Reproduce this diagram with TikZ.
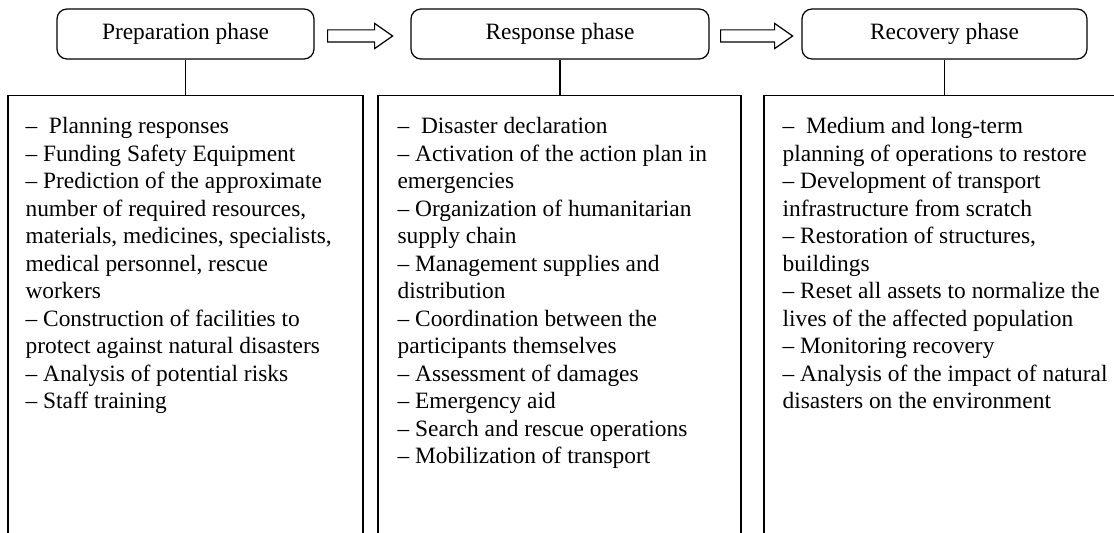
\documentclass[tikz,border=0pt]{standalone}
\usepackage{fontspec}
\setmainfont{Liberation Serif}
\usetikzlibrary{shapes.arrows}

\begin{document}
\begin{tikzpicture}[x=0.5pt, y=-0.5pt, line width=0.6pt, font=\fontsize{11.7pt}{13.75pt}\selectfont]
		\tikzstyle{phasebox}=[draw, rounded corners=5pt, minimum height=25pt, inner sep=0pt]
		\tikzstyle{listbox}=[draw, minimum height=240pt, anchor=north, inner sep=0pt]
		\tikzstyle{listtext}=[align=left, anchor=north west, inner sep=0pt]
		\tikzstyle{blockarrow}=[draw, single arrow, single arrow tip angle=70, single arrow head extend=3.25pt, inner xsep=0pt, inner ysep=2.75pt, anchor=west]
			\useasboundingbox (0,0) rectangle (1114,533);
			\clip (0,0) rectangle (1114,533);

			% phases
			\node[phasebox, minimum width=128.5pt] (prep) at (185.5, 34) {Preparation phase};
			\node[phasebox, minimum width=149pt] (resp) at (560, 34) {Response phase};
			\node[phasebox, minimum width=142.5pt] (rec) at (944.5, 34) {Recovery phase};

			\node[blockarrow, minimum height=32.5pt] (preptoresp) at (327, 36) {};
			\node[blockarrow, minimum height=36pt] (resptorec) at (720, 36) {};

			% activity lists
			\node[listbox, minimum width=177.5pt] (preplist) at (185.5, 95) {};
			\node[listbox, minimum width=181.5pt] (resplist) at (559.5, 95) {};
			\node[listbox, minimum width=178pt] (reclist) at (942, 95) {};

			\draw (prep.south) -- (prep.south |- preplist.north);
			\draw (resp.south) -- (resp.south |- resplist.north);
			\draw (rec.south) -- (rec.south |- reclist.north);

			\node[listtext] (preptext) at (25, 117) {--\ \ Planning responses\\
				-- Funding Safety Equipment\\
				-- Prediction of the approximate\\
				number of required resources,\\
				materials, medicines, specialists,\\
				medical personnel, rescue\\
				workers\\
				-- Construction of facilities to\\
				protect against natural disasters\\
				-- Analysis of potential risks\\
				-- Staff training};
			\node[listtext] (resptext) at (397, 117) {--\ \ Disaster declaration\\
				-- Activation of the action plan in\\
				emergencies\\
				-- Organization of humanitarian\\
				supply chain\\
				-- Management supplies and\\
				distribution\\
				-- Coordination between the\\
				participants themselves\\
				-- Assessment of damages\\
				-- Emergency aid\\
				-- Search and rescue operations\\
				-- Mobilization of transport};
			\node[listtext] (rectext) at (782, 117) {--\ \ Medium and long-term\\
				planning of operations to restore\\
				-- Development of transport\\
				infrastructure from scratch\\
				-- Restoration of structures,\\
				buildings\\
				-- Reset all assets to normalize the\\
				lives of the affected population\\
				-- Monitoring recovery\\
				-- Analysis of the impact of natural\\
				disasters on the environment};
		\end{tikzpicture}
\end{document}
